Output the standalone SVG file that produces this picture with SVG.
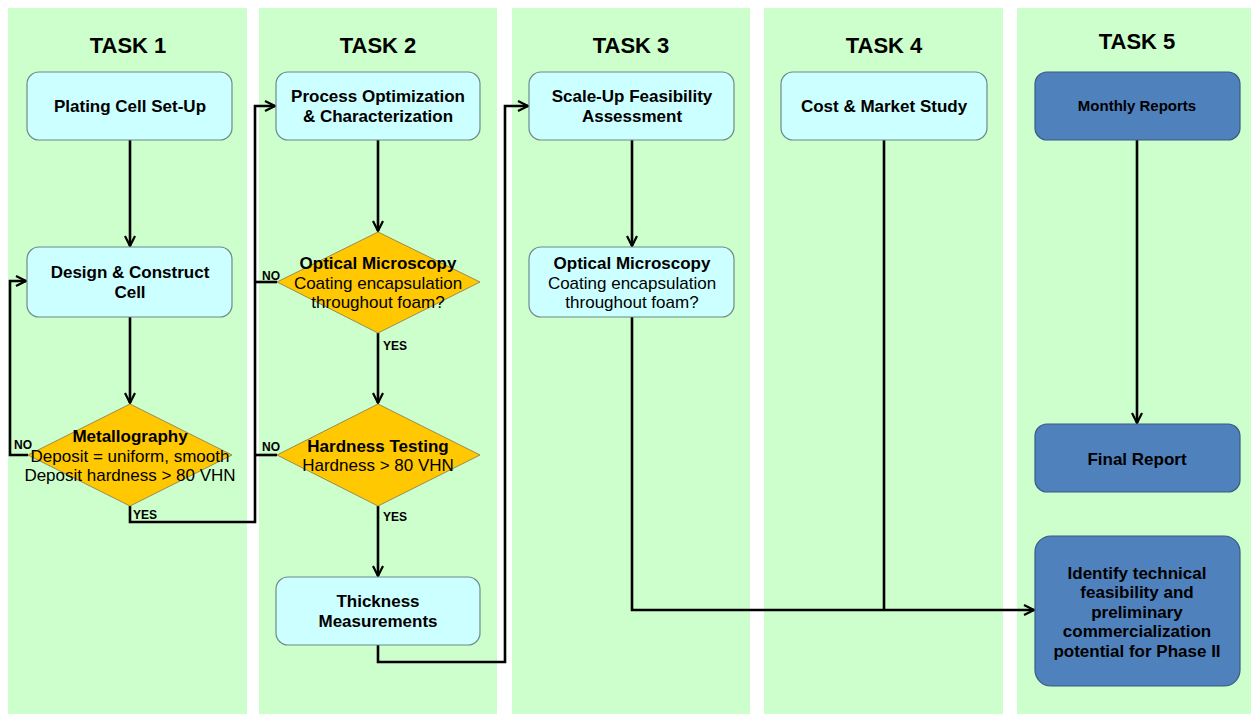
<svg xmlns="http://www.w3.org/2000/svg" width="1251" height="715" viewBox="0 0 1251 715">
<defs>
<marker id="arr" viewBox="0 0 12 12" refX="11" refY="6" markerWidth="12" markerHeight="12" markerUnits="userSpaceOnUse" orient="auto">
<path d="M1,1 L11,6 L1,11" fill="none" stroke="#000" stroke-width="2.2"/>
</marker>
<style>
.lane{fill:#CCFFCC}
.hdr{font-family:"Liberation Sans",Arial,sans-serif;font-weight:bold;font-size:22px;fill:#000;text-anchor:middle}
.box{fill:#CCFFFF;stroke:#6f8a8a;stroke-width:1.2}
.dbox{fill:#4F81BD;stroke:#3a5a80;stroke-width:1.2}
.dia{fill:#FFC800;stroke:#9a8a50;stroke-width:1}
.t{font-family:"Liberation Sans",Arial,sans-serif;font-size:17px;fill:#000;text-anchor:middle}
.b{font-weight:bold}
.lbl{font-family:"Liberation Sans",Arial,sans-serif;font-size:12px;font-weight:bold;fill:#000}
.c{fill:none;stroke:#000;stroke-width:2.6}
</style>
</defs>
<rect width="1251" height="715" fill="#fff"/>
<g id="lanes">
<rect class="lane" x="8" y="8" width="239" height="706"/>
<rect class="lane" x="259" y="8" width="238" height="706"/>
<rect class="lane" x="512" y="8" width="238" height="706"/>
<rect class="lane" x="764" y="8" width="239" height="706"/>
<rect class="lane" x="1017" y="8" width="234" height="706"/>
<text class="hdr" x="128" y="53">TASK 1</text>
<text class="hdr" x="378" y="53">TASK 2</text>
<text class="hdr" x="631" y="53">TASK 3</text>
<text class="hdr" x="884" y="53">TASK 4</text>
<text class="hdr" x="1137" y="49">TASK 5</text>
</g>
<g id="connectors">
<path class="c" d="M130,140 V246" marker-end="url(#arr)"/>
<path class="c" d="M130,317 V403" marker-end="url(#arr)"/>
<path class="c" d="M28,455 H10 V281 H26" marker-end="url(#arr)"/>
<path class="c" d="M130,506 V522 H255 V106 H275" marker-end="url(#arr)"/>
<path class="c" d="M378,140 V231" marker-end="url(#arr)"/>
<path class="c" d="M277,282 H255"/>
<path class="c" d="M378,333 V403" marker-end="url(#arr)"/>
<path class="c" d="M277,455 H255"/>
<path class="c" d="M378,506 V576" marker-end="url(#arr)"/>
<path class="c" d="M378,645 V662 H505 V106 H528" marker-end="url(#arr)"/>
<path class="c" d="M632,140 V246" marker-end="url(#arr)"/>
<path class="c" d="M632,317 V610 H1034" marker-end="url(#arr)"/>
<path class="c" d="M884,140 V610"/>
<path class="c" d="M1137,140 V423" marker-end="url(#arr)"/>
<text class="lbl" x="14" y="449">NO</text>
<text class="lbl" x="133" y="519">YES</text>
<text class="lbl" x="262" y="280">NO</text>
<text class="lbl" x="383" y="350">YES</text>
<text class="lbl" x="262" y="451">NO</text>
<text class="lbl" x="383" y="521">YES</text>
</g>
<g id="plating">
<rect class="box" x="27" y="72" width="205" height="68" rx="12"/>
<text class="t b" x="130" y="112">Plating Cell Set-Up</text>
</g>
<g id="design">
<rect class="box" x="27" y="247" width="205" height="70" rx="12"/>
<text class="t b" x="130" y="278">Design &amp; Construct</text>
<text class="t b" x="130" y="298">Cell</text>
</g>
<g id="metallography">
<polygon class="dia" points="130,404 232,455 130,506 28,455"/>
<text class="t b" x="130" y="442">Metallography</text>
<text class="t" x="130" y="462">Deposit = uniform, smooth</text>
<text class="t" x="130" y="481">Deposit hardness &gt; 80 VHN</text>
</g>
<g id="process">
<rect class="box" x="276" y="72" width="204" height="68" rx="12"/>
<text class="t b" x="378" y="102">Process Optimization</text>
<text class="t b" x="378" y="122">&amp; Characterization</text>
</g>
<g id="optical2">
<polygon class="dia" points="378,232 480,282 378,333 277,282"/>
<text class="t b" x="378" y="269">Optical Microscopy</text>
<text class="t" x="378" y="289">Coating encapsulation</text>
<text class="t" x="378" y="308">throughout foam?</text>
</g>
<g id="hardness">
<polygon class="dia" points="378,404 480,455 378,506 277,455"/>
<text class="t b" x="378" y="452">Hardness Testing</text>
<text class="t" x="378" y="471">Hardness &gt; 80 VHN</text>
</g>
<g id="thickness">
<rect class="box" x="276" y="577" width="204" height="68" rx="12"/>
<text class="t b" x="378" y="607">Thickness</text>
<text class="t b" x="378" y="627">Measurements</text>
</g>
<g id="scaleup">
<rect class="box" x="529" y="72" width="205" height="68" rx="12"/>
<text class="t b" x="632" y="102">Scale-Up Feasibility</text>
<text class="t b" x="632" y="122">Assessment</text>
</g>
<g id="optical3">
<rect class="box" x="529" y="247" width="205" height="70" rx="12"/>
<text class="t b" x="632" y="269">Optical Microscopy</text>
<text class="t" x="632" y="289">Coating encapsulation</text>
<text class="t" x="632" y="308">throughout foam?</text>
</g>
<g id="cost">
<rect class="box" x="781" y="72" width="206" height="68" rx="12"/>
<text class="t b" x="884" y="112">Cost &amp; Market Study</text>
</g>
<g id="monthly">
<rect class="dbox" x="1035" y="72" width="205" height="68" rx="12"/>
<text class="t b" x="1137" y="111" style="font-size:15px">Monthly Reports</text>
</g>
<g id="final">
<rect class="dbox" x="1035" y="424" width="205" height="68" rx="12"/>
<text class="t b" x="1137" y="465">Final Report</text>
</g>
<g id="identify">
<rect class="dbox" x="1035" y="536" width="205" height="150" rx="16"/>
<text class="t b" x="1137" y="579">Identify technical</text>
<text class="t b" x="1137" y="598">feasibility and</text>
<text class="t b" x="1137" y="618">preliminary</text>
<text class="t b" x="1137" y="637">commercialization</text>
<text class="t b" x="1137" y="657">potential for Phase II</text>
</g>
</svg>
